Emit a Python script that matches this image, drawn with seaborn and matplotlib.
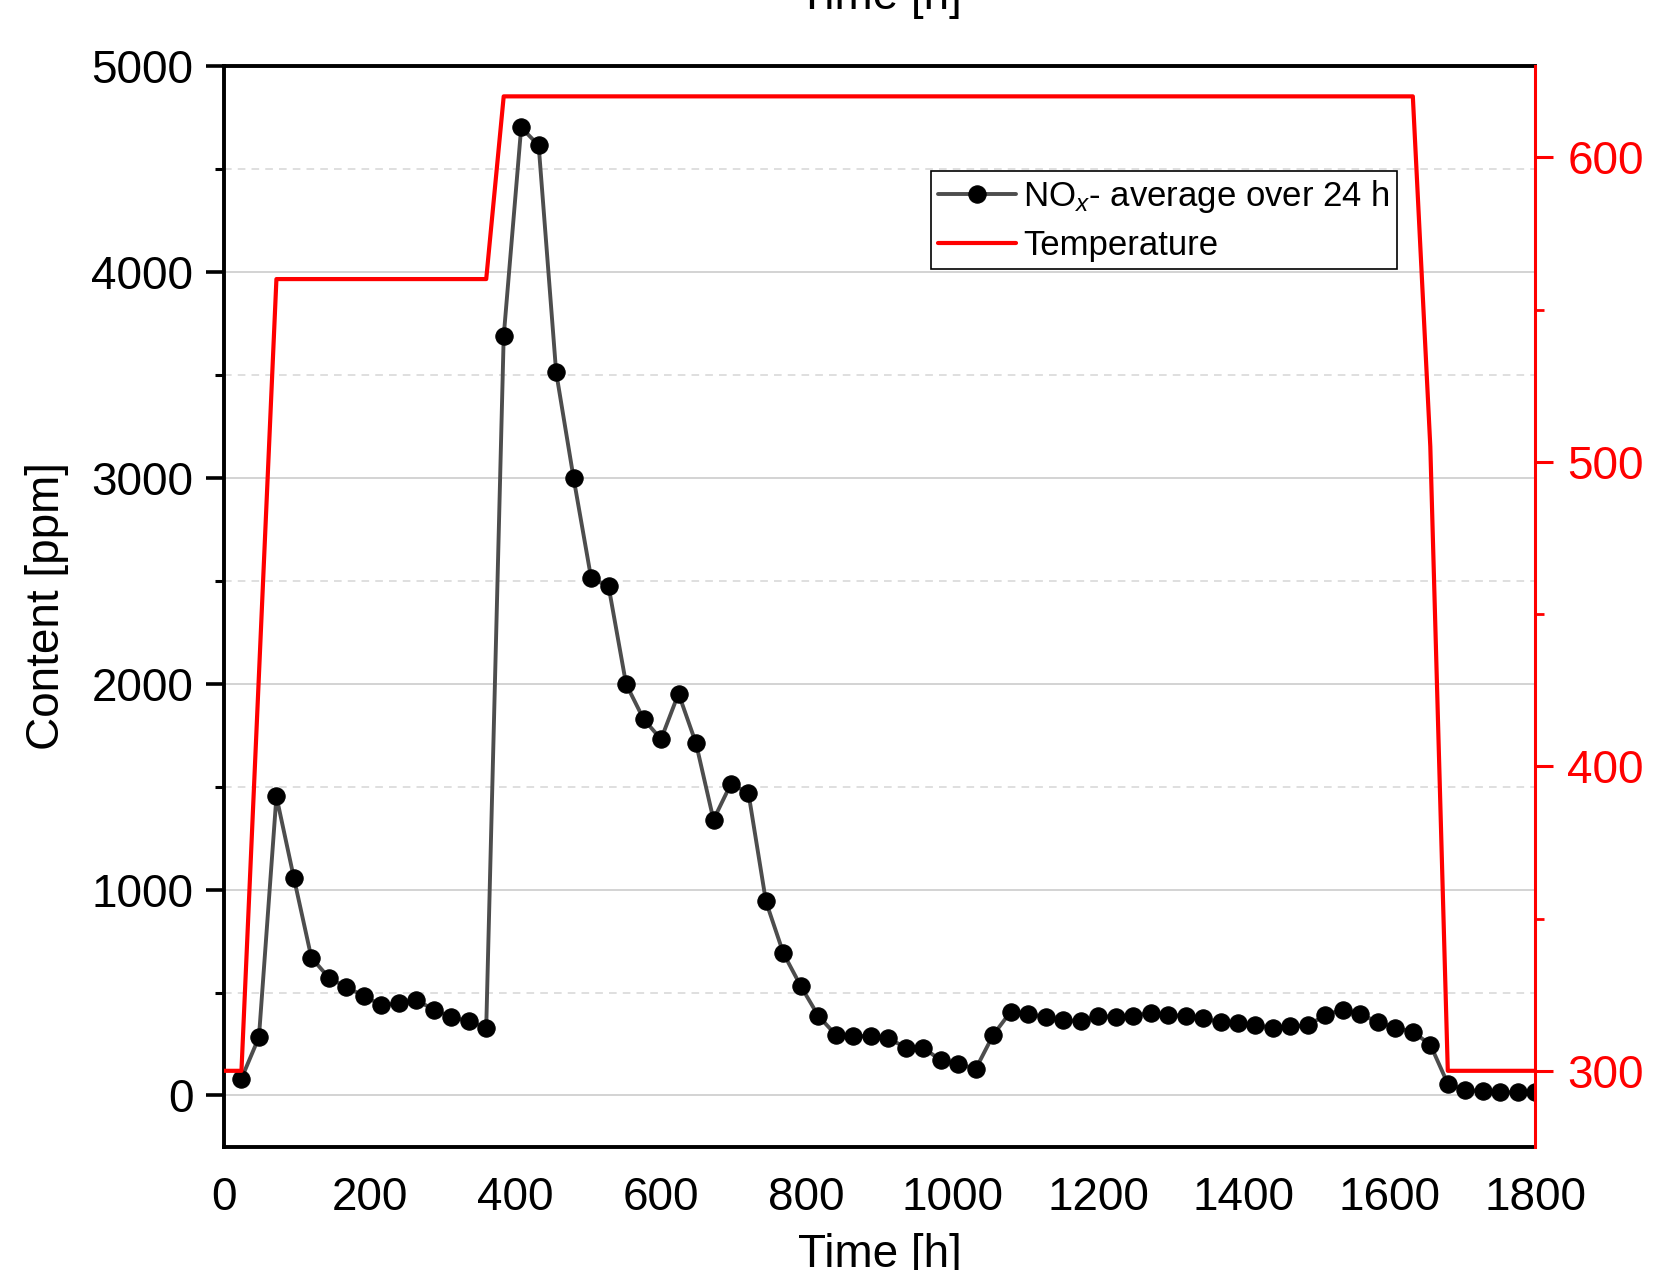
import numpy as np
import pandas as pd
import matplotlib
matplotlib.use('Agg')
import matplotlib.pyplot as plt
from matplotlib.ticker import MultipleLocator
import seaborn as sns

# NOx averaged over 24 h (every 24 h, from 24 h to 1800 h)
nox_time = list(range(24, 1801, 24))
nox_ppm = [82, 283, 1452, 1056, 669, 572, 525, 484, 438, 448, 463, 417, 381, 360, 330,
           3687, 4701, 4614, 3512, 2997, 2513, 2472, 1998, 1828, 1730, 1952, 1710, 1339,
           1514, 1468, 942, 690, 530, 386, 294, 288, 288, 278, 232, 232, 170, 154, 129,
           294, 407, 396, 381, 366, 360, 386, 381, 386, 402, 391, 386, 376, 355, 350,
           340, 330, 335, 340, 391, 417, 396, 355, 330, 309, 247, 57, 26, 21, 15, 15, 15]

# furnace temperature profile
temp_time = [0, 24, 72, 360, 384, 1632, 1656, 1680, 1800]
temp_c = [300, 300, 560, 560, 620, 620, 505, 300, 300]

nox = pd.DataFrame({'time': nox_time, 'nox': nox_ppm})
temp = pd.DataFrame({'time': temp_time, 'temp': temp_c})

sns.set_style('white')
plt.rcParams['font.family'] = ['Liberation Sans', 'DejaVu Sans']
plt.rcParams['mathtext.fontset'] = 'custom'
plt.rcParams['mathtext.rm'] = 'Liberation Sans'
plt.rcParams['mathtext.it'] = 'Liberation Sans:italic'
plt.rcParams['text.color'] = 'black'
plt.rcParams['axes.labelcolor'] = 'black'

fs = 33

fig = plt.figure(figsize=(16.64, 12.70), dpi=100)
ax = fig.add_axes([0.1346, 0.0969, 0.788, 0.8512])
ax2 = ax.twinx()

sns.lineplot(data=nox, x='time', y='nox', ax=ax, color='#4d4d4d', lw=2.8,
             marker='o', markersize=12.5, markerfacecolor='black',
             markeredgecolor='black', label='NO$_{x}$- average over 24 h', legend=False)
sns.lineplot(data=temp, x='time', y='temp', ax=ax2, color='#ff0000', lw=3.0,
             label='Temperature', legend=False)

ax.set_xlim(0, 1800)
ax.set_ylim(-250, 5000)
ax2.set_ylim(275, 630)

ax.xaxis.set_major_locator(MultipleLocator(200))
ax.xaxis.set_minor_locator(MultipleLocator(100))
ax.yaxis.set_major_locator(MultipleLocator(1000))
ax.yaxis.set_minor_locator(MultipleLocator(500))
ax2.yaxis.set_major_locator(MultipleLocator(100))
ax2.yaxis.set_minor_locator(MultipleLocator(50))

ax.set_axisbelow(True)
ax.yaxis.grid(True, which='major', color='#d0d0d0', lw=1.3, ls='-')
ax.yaxis.grid(True, which='minor', color='#d6d6d6', lw=1.1, ls=(0, (5, 4)))
ax.xaxis.grid(False)

for s in ['left', 'bottom', 'top']:
    ax.spines[s].set_color('black')
    ax.spines[s].set_linewidth(2.8)
ax.spines['right'].set_visible(False)
for s in ['left', 'bottom', 'top']:
    ax2.spines[s].set_visible(False)
ax2.spines['right'].set_color('#ff0000')
ax2.spines['right'].set_linewidth(2.2)

ax.tick_params(axis='both', which='major', direction='out', length=13, width=2.6,
               labelsize=fs, colors='black', pad=9)
ax.tick_params(axis='both', which='minor', direction='out', length=6.5, width=2.2,
               colors='black')
ax.tick_params(axis='x', which='major', pad=8)
ax.tick_params(top=False, which='both')
ax2.tick_params(axis='y', which='major', direction='out', length=13, width=2.2,
                labelsize=fs, colors='#ff0000', pad=10)
ax2.tick_params(axis='y', which='minor', direction='out', length=6.5, width=2.0,
                colors='#ff0000')

ax.set_xlabel('Time [h]', fontsize=fs, color='black')
ax.xaxis.set_label_coords(0.5, -0.08)
ax.set_ylabel('Content [ppm]', fontsize=fs, color='black')
ax.yaxis.set_label_coords(-0.118, 0.5)
ax2.set_ylabel('')

# clipped top axis title
fig.text(0.529, 1 - 9 / 1270, 'Time [h]', fontsize=fs, ha='center', va='baseline',
         color='black')

h1, l1 = ax.get_legend_handles_labels()
h2, l2 = ax2.get_legend_handles_labels()
leg = ax2.legend(h1 + h2, l1 + l2, loc='upper left', bbox_to_anchor=(0.539, 0.903),
                 borderaxespad=0, fontsize=25, frameon=True, fancybox=False,
                 edgecolor='black', framealpha=1, handlelength=2.25,
                 handletextpad=0.22, labelspacing=0.42, borderpad=0.2)
leg.get_frame().set_linewidth(1.2)
for t in leg.get_texts():
    t.set_color('black')

fig.savefig('out.png', dpi=100)
